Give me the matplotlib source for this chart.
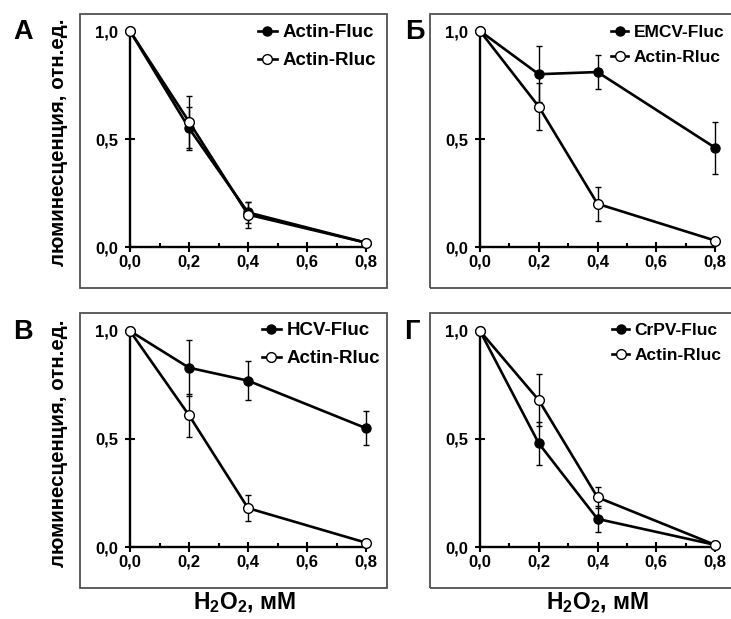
import matplotlib
matplotlib.use("Agg")
import matplotlib.pyplot as plt
from matplotlib.patches import Rectangle
from matplotlib.ticker import MultipleLocator, FixedLocator

plt.rcParams['font.family'] = ['Liberation Sans', 'DejaVu Sans']
plt.rcParams['font.weight'] = 'bold'
plt.rcParams['mathtext.fontset'] = 'custom'
plt.rcParams['mathtext.rm'] = 'Liberation Sans:bold'
plt.rcParams['mathtext.bf'] = 'Liberation Sans:bold'
plt.rcParams['mathtext.it'] = 'Liberation Sans:bold'

# ---- data ----
x = [0.0, 0.2, 0.4, 0.8]
x_ticks = [0.0, 0.2, 0.4, 0.6, 0.8]
x_tick_labels = ['0,0', '0,2', '0,4', '0,6', '0,8']
y_ticks = [0.0, 0.5, 1.0]
y_tick_labels = ['0,0', '0,5', '1,0']

panel_letters = ['А', 'Б', 'В', 'Г']
fluc_names = ['Actin-Fluc', 'EMCV-Fluc', 'HCV-Fluc', 'CrPV-Fluc']
rluc_name = 'Actin-Rluc'

a_fluc = [1.0, 0.55, 0.16, 0.02]
a_fluc_err = [0.0, 0.10, 0.05, 0.0]
a_rluc = [1.0, 0.58, 0.15, 0.02]
a_rluc_err = [0.0, 0.12, 0.06, 0.0]

b_fluc = [1.0, 0.80, 0.81, 0.46]
b_fluc_err = [0.0, 0.13, 0.08, 0.12]
b_rluc = [1.0, 0.65, 0.20, 0.03]
b_rluc_err = [0.0, 0.11, 0.08, 0.0]

c_fluc = [1.0, 0.83, 0.77, 0.55]
c_fluc_err = [0.0, 0.13, 0.09, 0.08]
c_rluc = [1.0, 0.61, 0.18, 0.02]
c_rluc_err = [0.0, 0.10, 0.06, 0.0]

d_fluc = [1.0, 0.48, 0.13, 0.01]
d_fluc_err = [0.0, 0.10, 0.06, 0.0]
d_rluc = [1.0, 0.68, 0.23, 0.01]
d_rluc_err = [0.0, 0.12, 0.05, 0.0]

ylabel = 'люминесценция, отн.ед.'
xlabel = r'H$_2$O$_2$, мМ'

W, H = 731, 619
fig = plt.figure(figsize=(W / 100, H / 100), dpi=100)

def fx(px):
    return px / W

def fy(py):
    return 1 - py / H

# axes pixel layouts: (x0, x1, ytop, ybottom)
layouts = [(130, 366, 31, 247), (480, 715, 31, 247),
           (130, 366, 331, 547), (480, 715, 331, 547)]
boxes = [(80, 14, 387, 288), (430, 14, 736, 288),
         (80, 313, 387, 588), (430, 313, 736, 588)]
letter_pos = [(23, 32), (415, 32), (23, 332), (412, 332)]
legend_pos = [(258, 24), (611, 25), (262, 322), (612, 323)]
legend_size = [13.5, 12.5, 13.5, 12.5]

series = [(a_fluc, a_fluc_err, a_rluc, a_rluc_err),
          (b_fluc, b_fluc_err, b_rluc, b_rluc_err),
          (c_fluc, c_fluc_err, c_rluc, c_rluc_err),
          (d_fluc, d_fluc_err, d_rluc, d_rluc_err)]

for i in range(4):
    x0, x1, yt, yb = layouts[i]
    ax = fig.add_axes([fx(x0), fy(yb), (x1 - x0) / W, (yb - yt) / H])
    ax.set_xlim(0, 0.8)
    ax.set_ylim(0, 1.0)
    fl, fle, rl, rle = series[i]
    ax.errorbar(x, fl, yerr=fle, fmt='none', ecolor='black', elinewidth=1.0,
                capsize=2, capthick=1.0, clip_on=False, zorder=3)
    ax.errorbar(x, rl, yerr=rle, fmt='none', ecolor='black', elinewidth=1.0,
                capsize=2, capthick=1.0, clip_on=False, zorder=3)
    l1, = ax.plot(x, fl, '-o', color='black', lw=1.9, ms=6.5,
                  mfc='black', mec='black', mew=1.0, clip_on=False, zorder=4,
                  label=fluc_names[i])
    l2, = ax.plot(x, rl, '-o', color='black', lw=1.9, ms=7,
                  mfc='white', mec='black', mew=1.0, clip_on=False, zorder=5,
                  label=rluc_name)
    for s in ['top', 'right']:
        ax.spines[s].set_visible(False)
    for s in ['left', 'bottom']:
        ax.spines[s].set_linewidth(1.7)
    ax.xaxis.set_major_locator(FixedLocator(x_ticks))
    ax.set_xticklabels(x_tick_labels)
    ax.xaxis.set_minor_locator(MultipleLocator(0.1))
    ax.yaxis.set_major_locator(FixedLocator(y_ticks))
    ax.set_yticklabels(y_tick_labels)
    ax.tick_params(axis='x', which='major', direction='inout', length=7,
                   width=1.5, labelsize=12, pad=2)
    ax.tick_params(axis='x', which='minor', direction='in', length=3, width=1.5)
    ax.tick_params(axis='y', which='major', direction='inout', length=7,
                   width=1.5, labelsize=12, pad=5)
    for lab in ax.get_xticklabels() + ax.get_yticklabels():
        lab.set_fontweight('bold')
    lx, ly = legend_pos[i]
    ax.legend(handles=[l1, l2], loc='upper left',
              bbox_to_anchor=(fx(lx), fy(ly)), bbox_transform=fig.transFigure,
              frameon=False, handlelength=1.0,
              handletextpad=0.3, labelspacing=0.58, borderpad=0,
              borderaxespad=0, numpoints=1,
              prop={'weight': 'bold', 'size': legend_size[i]})
    # frame box
    bx0, by0, bx1, by1 = boxes[i]
    fig.add_artist(Rectangle((fx(bx0), fy(by1)), (bx1 - bx0) / W, (by1 - by0) / H,
                             transform=fig.transFigure, fill=False,
                             edgecolor='#505050', lw=1.3))
    px, py = letter_pos[i]
    fig.text(fx(px), fy(py), panel_letters[i], fontsize=19.5, fontweight='bold',
             ha='center', va='center')

fig.text(fx(58), fy(142), ylabel, rotation=90, fontsize=14.8, fontweight='bold',
         ha='center', va='center')
fig.text(fx(58), fy(443), ylabel, rotation=90, fontsize=14.8, fontweight='bold',
         ha='center', va='center')
fig.text(fx(245), fy(603), xlabel, fontsize=16.5, fontweight='bold',
         ha='center', va='center')
fig.text(fx(598), fy(603), xlabel, fontsize=16.5, fontweight='bold',
         ha='center', va='center')

fig.savefig('out.png', dpi=100)
